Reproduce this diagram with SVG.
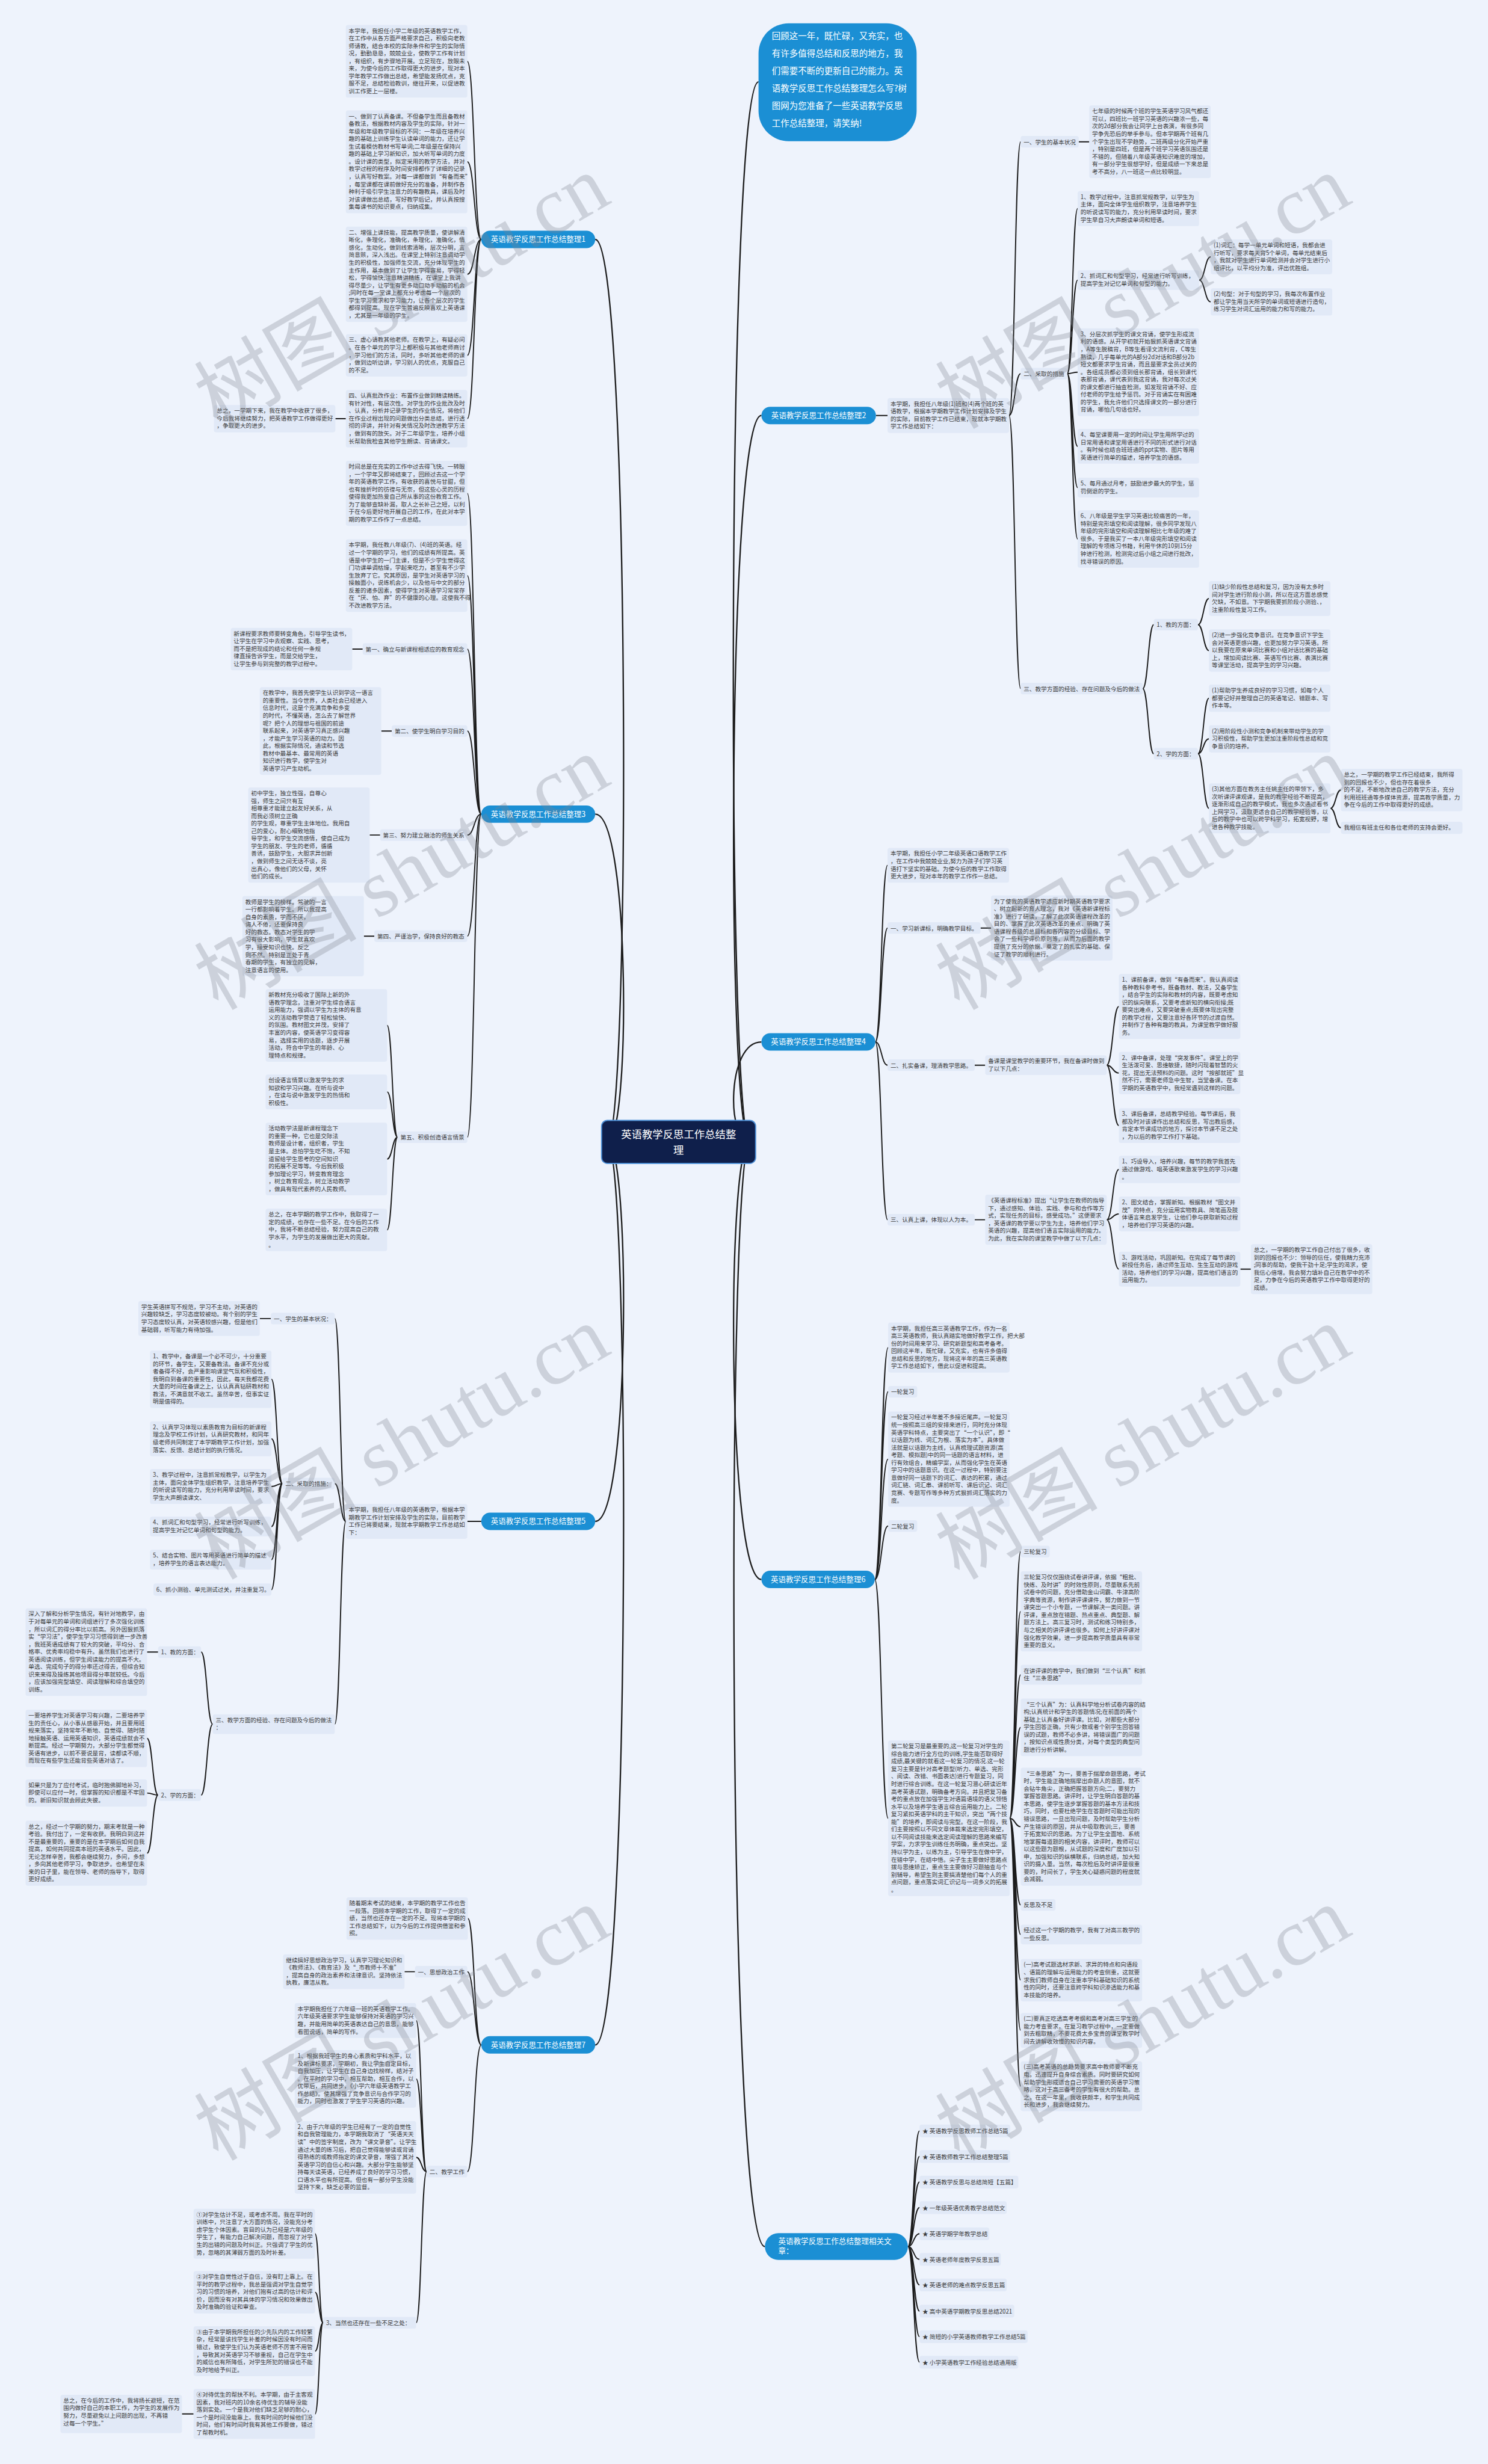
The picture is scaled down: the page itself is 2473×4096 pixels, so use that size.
<svg xmlns="http://www.w3.org/2000/svg" width="2473" height="4096" viewBox="0 0 2473 4096">
<style>
.t{font-family:"Noto Sans CJK SC","Noto Sans",sans-serif;font-size:10px;fill:#3a3a3a}
.b{fill:#e1e9f7}
.c{fill:none;stroke:#1c1c1c;stroke-width:2}
.m{fill:none;stroke:#1c1c1c;stroke-width:2.4}
.p{fill:#1b8fd4}
.pt{font-family:"Noto Sans CJK SC","Noto Sans",sans-serif;font-size:13px;fill:#ffffff}
.w{font-family:"Liberation Serif","Noto Sans CJK SC",serif;font-size:140px;fill:#7d838e;fill-opacity:0.3}
</style>
<rect x="0" y="0" width="2473" height="4096" fill="#eef3fc"/>
<g transform="scale(0.966)">
<g id="connectors">
<path class="m" d="M1290,1965C1250,1965 1250,141 1305,141"/>
<path class="m" d="M1290,1965C1250,1965 1250,715 1310,715"/>
<path class="m" d="M1290,1965C1250,1965 1250,1793 1310,1793"/>
<path class="m" d="M1290,1965C1250,1965 1250,2718 1310,2718"/>
<path class="m" d="M1290,1965C1250,1965 1250,3866 1316,3866"/>
<path class="m" d="M1045,1965C1085,1965 1085,412 1024,412"/>
<path class="m" d="M1045,1965C1085,1965 1085,1401 1024,1401"/>
<path class="m" d="M1045,1965C1085,1965 1085,2618 1024,2618"/>
<path class="m" d="M1045,1965C1085,1965 1085,3519 1024,3519"/>
<path class="c" d="M828,412C816,412 816,105.5 804,105.5M828,412C816,412 816,278.5 804,278.5M828,412C816,412 816,472 804,472M828,412C816,412 816,611.5 804,611.5M828,412C816,412 816,720.5 804,720.5M595,720.5L577,720.5"/>
<path class="c" d="M828,1401C816,1401 816,849 804,849M828,1401C816,1401 816,990.5 804,990.5M828,1401C816,1401 816,1117 804,1117M828,1401C816,1401 816,1258 804,1258M828,1401C816,1401 816,1437 804,1437M828,1401C816,1401 816,1611 804,1611M828,1401C816,1401 816,1957 804,1957M624,1117L606,1117M674,1258L656,1258M654,1437L636,1437M644,1611L626,1611M684,1957C675,1957 675,1764.5 666,1764.5M684,1957C675,1957 675,1879 666,1879M684,1957C675,1957 675,1994.5 666,1994.5M684,1957C675,1957 675,2116.5 666,2116.5"/>
<path class="c" d="M1507,715L1527,715M1736,715C1746,715 1746,244 1756,244M1736,715C1746,715 1746,643 1756,643M1736,715C1746,715 1746,1185 1756,1185M1856,244L1874,244M1836,643C1845,643 1845,359 1854,359M1836,643C1845,643 1845,482 1854,482M1836,643C1845,643 1845,640.5 1854,640.5M1836,643C1845,643 1845,768 1854,768M1836,643C1845,643 1845,839 1854,839M1836,643C1845,643 1845,927.5 1854,927.5M2063,482C2073,482 2073,442 2083,442M2063,482C2073,482 2073,519.5 2083,519.5M1966,1185C1975.5,1185 1975.5,1075 1985,1075M1966,1185C1975.5,1185 1975.5,1297 1985,1297M2061,1075C2070.5,1075 2070.5,1030 2080,1030M2061,1075C2070.5,1075 2070.5,1119.5 2080,1119.5M2061,1297C2070.5,1297 2070.5,1201.5 2080,1201.5M2061,1297C2070.5,1297 2070.5,1271.5 2080,1271.5M2061,1297C2070.5,1297 2070.5,1391 2080,1391M2289,1391C2298,1391 2298,1359.5 2307,1359.5M2289,1391C2298,1391 2298,1424.5 2307,1424.5"/>
<path class="c" d="M1506,1793C1516.5,1793 1516.5,1489 1527,1489M1506,1793C1516.5,1793 1516.5,1597 1527,1597M1506,1793C1516.5,1793 1516.5,1833 1527,1833M1506,1793C1516.5,1793 1516.5,2099 1527,2099M1687,1597L1705,1597M1677,1833L1695,1833M1904,1833C1914.5,1833 1914.5,1732 1925,1732M1904,1833C1914.5,1833 1914.5,1846.5 1925,1846.5M1904,1833C1914.5,1833 1914.5,1937 1925,1937M1677,2099L1695,2099M1904,2099C1914.5,2099 1914.5,2012.5 1925,2012.5M1904,2099C1914.5,2099 1914.5,2089 1925,2089M1904,2099C1914.5,2099 1914.5,2184 1925,2184M2134,2184L2152,2184"/>
<path class="c" d="M1505,2718C1516.5,2718 1516.5,2319 1528,2319M1505,2718C1516.5,2718 1516.5,2395 1528,2395M1505,2718C1516.5,2718 1516.5,2511 1528,2511M1505,2718C1516.5,2718 1516.5,2626 1528,2626M1505,2718C1516.5,2718 1516.5,3129 1528,3129M1737,3129C1746.5,3129 1746.5,2670 1756,2670M1737,3129C1746.5,3129 1746.5,2773 1756,2773M1737,3129C1746.5,3129 1746.5,2882 1756,2882M1737,3129C1746.5,3129 1746.5,2972.5 1756,2972.5M1737,3129C1746.5,3129 1746.5,3143.5 1756,3143.5M1737,3129C1746.5,3129 1746.5,3278 1756,3278M1737,3129C1746.5,3129 1746.5,3329 1756,3329M1737,3129C1746.5,3129 1746.5,3407.5 1756,3407.5M1737,3129C1746.5,3129 1746.5,3494 1756,3494M1737,3129C1746.5,3129 1746.5,3590 1756,3590"/>
<path class="c" d="M1562,3866C1572,3866 1572,3667 1582,3667M1562,3866C1572,3866 1572,3711 1582,3711M1562,3866C1572,3866 1572,3755 1582,3755M1562,3866C1572,3866 1572,3799 1582,3799M1562,3866C1572,3866 1572,3844 1582,3844M1562,3866C1572,3866 1572,3888 1582,3888M1562,3866C1572,3866 1572,3932 1582,3932M1562,3866C1572,3866 1572,3977 1582,3977M1562,3866C1572,3866 1572,4021 1582,4021M1562,3866C1572,3866 1572,4065 1582,4065"/>
<path class="c" d="M828,2618L804,2618M595,2618C585.5,2618 585.5,2269 576,2269M595,2618C585.5,2618 585.5,2553 576,2553M595,2618C585.5,2618 585.5,2967 576,2967M466,2269L447,2269M486,2553C476.5,2553 476.5,2373.5 467,2373.5M486,2553C476.5,2553 476.5,2476 467,2476M486,2553C476.5,2553 476.5,2558 467,2558M486,2553C476.5,2553 476.5,2627 467,2627M486,2553C476.5,2553 476.5,2684 467,2684M486,2553C476.5,2553 476.5,2735.5 467,2735.5M366,2967C356,2967 356,2843 346,2843M366,2967C356,2967 356,3089 346,3089M272,2843L253,2843M272,3089C262.5,3089 262.5,2991.5 253,2991.5M272,3089C262.5,3089 262.5,3085.5 253,3085.5M272,3089C262.5,3089 262.5,3189 253,3189"/>
<path class="c" d="M828,3519C816,3519 816,3301.5 805,3301.5M828,3519C816,3519 816,3393 804,3393M828,3519C816,3519 816,3737 804,3737M714,3393L696,3393M734,3737C725,3737 725,3477 716,3477M734,3737C725,3737 725,3577.5 716,3577.5M734,3737C725,3737 725,3712.5 716,3712.5M734,3737C725,3737 725,3997 716,3997M556,3997C549,3997 549,3844 542,3844M556,3997C549,3997 549,3944.5 542,3944.5M556,3997C549,3997 549,4046 542,4046M556,3997C549,3997 549,4154 542,4154M333,4154L313,4154"/>
</g>

<g id="center"><rect x="1035" y="1928" width="265" height="74" rx="10" fill="#0f1f4b" stroke="#4d8fd6" stroke-width="2"/><text class="pt" style="font-size:18px" x="1167.5" y="1959" text-anchor="middle">英语教学反思工作总结整</text><text class="pt" style="font-size:18px" x="1167.5" y="1985" text-anchor="middle">理</text></g>

<g id="intro-bubble"><rect class="p" x="1305" y="40" width="272" height="203" rx="52"/><text class="pt" style="font-size:15px" x="1328" y="67"><tspan x="1328">回顾这一年，既忙碌，又充实，也</tspan><tspan x="1328" dy="30">有许多值得总结和反思的地方，我</tspan><tspan x="1328" dy="30">们需要不断的更新自己的能力。英</tspan><tspan x="1328" dy="30">语教学反思工作总结整理怎么写?树</tspan><tspan x="1328" dy="30">图网为您准备了一些英语教学反思</tspan><tspan x="1328" dy="30">工作总结整理，请笑纳!</tspan></text></g>

<g id="n1"><rect class="p" x="828" y="397" width="196" height="30" rx="15"/><text class="pt" x="926" y="416.5" text-anchor="middle">英语教学反思工作总结整理1</text></g>
<g id="n2"><rect class="p" x="1310" y="700" width="197" height="30" rx="15"/><text class="pt" x="1408.5" y="719.5" text-anchor="middle">英语教学反思工作总结整理2</text></g>
<g id="n3"><rect class="p" x="828" y="1386" width="196" height="30" rx="15"/><text class="pt" x="926" y="1405.5" text-anchor="middle">英语教学反思工作总结整理3</text></g>
<g id="n4"><rect class="p" x="1310" y="1778" width="196" height="30" rx="15"/><text class="pt" x="1408" y="1797.5" text-anchor="middle">英语教学反思工作总结整理4</text></g>
<g id="n5"><rect class="p" x="828" y="2603" width="196" height="30" rx="15"/><text class="pt" x="926" y="2622.5" text-anchor="middle">英语教学反思工作总结整理5</text></g>
<g id="n6"><rect class="p" x="1310" y="2703" width="195" height="30" rx="15"/><text class="pt" x="1407.5" y="2722.5" text-anchor="middle">英语教学反思工作总结整理6</text></g>
<g id="n7"><rect class="p" x="828" y="3504" width="196" height="30" rx="15"/><text class="pt" x="926" y="3523.5" text-anchor="middle">英语教学反思工作总结整理7</text></g>
<g id="n8"><rect class="p" x="1316" y="3843" width="246" height="46" rx="23"/><text class="pt" x="1339" y="3861"><tspan x="1339">英语教学反思工作总结整理相关文</tspan><tspan x="1339" dy="17">章：</tspan></text></g>

<!-- Branch 1 -->
<g id="b1-1"><rect class="b" x="595" y="43" width="209" height="125" rx="4"/><text class="t" x="600" y="56.5"><tspan x="600">本学年，我担任小学二年级的英语教学工作，</tspan><tspan x="600" dy="13">在工作中从各方面严格要求自己，积极向老教</tspan><tspan x="600" dy="13">师请教，结合本校的实际条件和学生的实际情</tspan><tspan x="600" dy="13">况，勤勤恳恳，兢兢业业，使教学工作有计划</tspan><tspan x="600" dy="13">，有组织，有步骤地开展。立足现在，放眼未</tspan><tspan x="600" dy="13">来，为使今后的工作取得更大的进步，现对本</tspan><tspan x="600" dy="13">学年教学工作做出总结，希望能发扬优点，克</tspan><tspan x="600" dy="13">服不足，总结检验教训，继往开来，以促进教</tspan><tspan x="600" dy="13">训工作更上一层楼。</tspan></text></g>
<g id="b1-2"><rect class="b" x="595" y="190" width="209" height="177" rx="4"/><text class="t" x="600" y="203.5"><tspan x="600">一、做到了认真备课。不但备学生而且备教材</tspan><tspan x="600" dy="13">备教法，根据教材内容及学生的实际，针对一</tspan><tspan x="600" dy="13">年级和年级教学目标的不同：一年级在培养兴</tspan><tspan x="600" dy="13">趣的基础上训练学生认读单词的能力，还让学</tspan><tspan x="600" dy="13">生试着模仿教材书写单词;二年级是在保持兴</tspan><tspan x="600" dy="13">趣的基础上学习新知识，加大听写单词的力度</tspan><tspan x="600" dy="13">。设计课的类型，拟定采用的教学方法，并对</tspan><tspan x="600" dy="13">教学过程的程序及时间安排都作了详细的记录</tspan><tspan x="600" dy="13">，认真写好教案。对每一课都做到“有备而来”</tspan><tspan x="600" dy="13">，每堂课都在课前做好充分的准备，并制作各</tspan><tspan x="600" dy="13">种利于吸引学生注意力的有趣教具，课后及时</tspan><tspan x="600" dy="13">对该课做出总结，写好教学后记，并认真按搜</tspan><tspan x="600" dy="13">集每课书的知识要点，归纳成集。</tspan></text></g>
<g id="b1-3"><rect class="b" x="595" y="390" width="209" height="164" rx="4"/><text class="t" x="600" y="403.5"><tspan x="600">二、增强上课技能，提高教学质量，使讲解清</tspan><tspan x="600" dy="13">晰化，条理化，准确化，条理化，准确化，情</tspan><tspan x="600" dy="13">感化，生动化，做到线索清晰，层次分明，言</tspan><tspan x="600" dy="13">简意赅，深入浅出。在课堂上特别注意调动学</tspan><tspan x="600" dy="13">生的积极性，加强师生交流，充分体现学生的</tspan><tspan x="600" dy="13">主作用，基本做到了让学生学得容易，学得轻</tspan><tspan x="600" dy="13">松，学得愉快;注意精讲精练，在课堂上我讲</tspan><tspan x="600" dy="13">得尽量少，让学生有更多动口动手动脑的机会</tspan><tspan x="600" dy="13">;同时在每一堂课上都充分考虑每一个层次的</tspan><tspan x="600" dy="13">学生学习需求和学习能力，让各个层次的学生</tspan><tspan x="600" dy="13">都得到提高。现在学生普遍反映喜欢上英语课</tspan><tspan x="600" dy="13">，尤其是一年级的学生。</tspan></text></g>
<g id="b1-4"><rect class="b" x="595" y="575" width="209" height="73" rx="4"/><text class="t" x="600" y="588.5"><tspan x="600">三、虚心请教其他老师。在教学上，有疑必问</tspan><tspan x="600" dy="13">。在各个单元的学习上都积极与其他老师商讨</tspan><tspan x="600" dy="13">，学习他们的方法，同时，多听其他老师的课</tspan><tspan x="600" dy="13">，做到边听边讲，学习别人的优点，克服自己</tspan><tspan x="600" dy="13">的不足。</tspan></text></g>
<g id="b1-5"><rect class="b" x="595" y="671" width="209" height="99" rx="4"/><text class="t" x="600" y="684.5"><tspan x="600">四、认真批改作业：布置作业做到精读精练。</tspan><tspan x="600" dy="13">有针对性，有层次性。对学生的作业批改及时</tspan><tspan x="600" dy="13">、认真，分析并记录学生的作业情况，将他们</tspan><tspan x="600" dy="13">在作业过程出现的问题做出分类总结，进行透</tspan><tspan x="600" dy="13">彻的评讲，并针对有关情况及时改进教学方法</tspan><tspan x="600" dy="13">，做到有的放矢。对于二年级学生，培养小组</tspan><tspan x="600" dy="13">长帮助我检查其他学生朗读、背诵课文。</tspan></text></g>
<g id="b1-6"><rect class="b" x="368" y="697" width="209" height="47" rx="4"/><text class="t" x="373" y="710.5"><tspan x="373">总之，一学期下来，我在教学中收获了很多，</tspan><tspan x="373" dy="13">今后我将继续努力，把英语教学工作做得更好</tspan><tspan x="373" dy="13">，争取更大的进步。</tspan></text></g>

<!-- Branch 3 -->
<g id="b3-1"><rect class="b" x="595" y="793" width="209" height="112" rx="4"/><text class="t" x="600" y="806.5"><tspan x="600">时间总是在充实的工作中过去得飞快。一转眼</tspan><tspan x="600" dy="13">，一个学年又即将结束了，回顾过去这一个学</tspan><tspan x="600" dy="13">年的英语教学工作，有收获的喜悦与甘甜，但</tspan><tspan x="600" dy="13">也有挫折时的彷徨与无奈，但这些心灵的历程</tspan><tspan x="600" dy="13">使得我更加热爱自己所从事的这份教育工作。</tspan><tspan x="600" dy="13">为了能够查缺补漏，取人之长补己之短，以利</tspan><tspan x="600" dy="13">于在今后更好地开展自己的工作，在此对本学</tspan><tspan x="600" dy="13">期的教学工作作了一点总结。</tspan></text></g>
<g id="b3-2"><rect class="b" x="595" y="928" width="209" height="125" rx="4"/><text class="t" x="600" y="941.5"><tspan x="600">本学期，我任教八年级(7)、(4)班的英语。经</tspan><tspan x="600" dy="13">过一个学期的学习，他们的成绩有所提高。英</tspan><tspan x="600" dy="13">语是中学生的一门主课，但是不少学生觉得这</tspan><tspan x="600" dy="13">门功课单调枯燥，学起来吃力，甚至有不少学</tspan><tspan x="600" dy="13">生放弃了它。究其原因，是学生对英语学习的</tspan><tspan x="600" dy="13">接触面小，说练机会少，以及他与中文的部分</tspan><tspan x="600" dy="13">反差的诸多因素，使得学生对英语学习常常存</tspan><tspan x="600" dy="13">在“厌、怕、弃”的不健康的心理。这使我不得</tspan><tspan x="600" dy="13">不改进教学方法。</tspan></text></g>
<g id="b3-3"><rect class="b" x="624" y="1107" width="180" height="20" rx="4"/><text class="t" x="629" y="1121">第一、确立与新课程相适应的教育观念</text></g>
<g id="b3-3a"><rect class="b" x="397" y="1080.5" width="209" height="73" rx="4"/><text class="t" x="402" y="1094"><tspan x="402">新课程要求教师要转变角色，引导学生读书，</tspan><tspan x="402" dy="13">让学生在学习中去观察、实践、思考，</tspan><tspan x="402" dy="13">而不是把现成的结论和任何一条规</tspan><tspan x="402" dy="13">律直接告诉学生，而是交给学生，</tspan><tspan x="402" dy="13">让学生参与到完整的教学过程中。</tspan></text></g>
<g id="b3-4"><rect class="b" x="674" y="1248" width="130" height="20" rx="4"/><text class="t" x="679" y="1262">第二、使学生明白学习目的</text></g>
<g id="b3-4a"><rect class="b" x="447" y="1182.5" width="209" height="151" rx="4"/><text class="t" x="452" y="1196"><tspan x="452">在教学中，我首先使学生认识到学这一语言</tspan><tspan x="452" dy="13">的重要性。当今世界，人类社会已经进入</tspan><tspan x="452" dy="13">信息时代，这是个充满竞争和多变</tspan><tspan x="452" dy="13">的时代，不懂英语，怎么去了解世界</tspan><tspan x="452" dy="13">呢？把个人的理想与祖国的前途</tspan><tspan x="452" dy="13">联系起来，对英语学习真正感兴趣</tspan><tspan x="452" dy="13">，才能产生学习英语的动力。因</tspan><tspan x="452" dy="13">此，根据实际情况，通读和节选</tspan><tspan x="452" dy="13">教材中最基本、最常用的英语</tspan><tspan x="452" dy="13">知识进行教学，使学生对</tspan><tspan x="452" dy="13">英语学习产生动机。</tspan></text></g>
<g id="b3-5"><rect class="b" x="654" y="1427" width="150" height="20" rx="4"/><text class="t" x="659" y="1441">第三、努力建立融洽的师生关系</text></g>
<g id="b3-5a"><rect class="b" x="427" y="1355" width="209" height="164" rx="4"/><text class="t" x="432" y="1368.5"><tspan x="432">初中学生，独立性强，自尊心</tspan><tspan x="432" dy="13">强，师生之间只有互</tspan><tspan x="432" dy="13">相尊重才能建立起友好关系，从</tspan><tspan x="432" dy="13">而我必须树立正确</tspan><tspan x="432" dy="13">的学生观，尊重学生主体地位。我用自</tspan><tspan x="432" dy="13">己的爱心，耐心细致地指</tspan><tspan x="432" dy="13">导学生，和学生交流感情，使自己成为</tspan><tspan x="432" dy="13">学生的朋友、学生的老师，循循</tspan><tspan x="432" dy="13">善诱，鼓励学生，大胆求异创新</tspan><tspan x="432" dy="13">，做到师生之间无话不谈，亮</tspan><tspan x="432" dy="13">出真心，像他们的父母，关怀</tspan><tspan x="432" dy="13">他们的成长。</tspan></text></g>
<g id="b3-6"><rect class="b" x="644" y="1601" width="160" height="20" rx="4"/><text class="t" x="649" y="1615">第四、严谨治学，保持良好的教态</text></g>
<g id="b3-6a"><rect class="b" x="417" y="1542" width="209" height="138" rx="4"/><text class="t" x="422" y="1555.5"><tspan x="422">教师是学生的榜样。驾驶的一言</tspan><tspan x="422" dy="13">一行都影响着学生。所以我提高</tspan><tspan x="422" dy="13">自身的素质，学而不厌，</tspan><tspan x="422" dy="13">诲人不倦，还要保持良</tspan><tspan x="422" dy="13">好的教态。教态对学生的学</tspan><tspan x="422" dy="13">习有很大影响，学生就喜欢</tspan><tspan x="422" dy="13">学，接受知识也快。反之</tspan><tspan x="422" dy="13">则不然。特别是正处于青</tspan><tspan x="422" dy="13">春期的学生，有独立的见解，</tspan><tspan x="422" dy="13">注意语言的使用。</tspan></text></g>
<g id="b3-7"><rect class="b" x="684" y="1947" width="120" height="20" rx="4"/><text class="t" x="689" y="1961">第五、积极创造语言情景</text></g>
<g id="b3-7a"><rect class="b" x="457" y="1702" width="209" height="125" rx="4"/><text class="t" x="462" y="1715.5"><tspan x="462">新教材充分吸收了国际上新的外</tspan><tspan x="462" dy="13">语教学理念，注重对学生综合语言</tspan><tspan x="462" dy="13">运用能力，强调以学生为主体的有意</tspan><tspan x="462" dy="13">义的活动教学营造了轻松愉快、</tspan><tspan x="462" dy="13">的氛围。教材图文并茂，安排了</tspan><tspan x="462" dy="13">丰富的内容，使英语学习变得容</tspan><tspan x="462" dy="13">易，选择实用的话题，逐步开展</tspan><tspan x="462" dy="13">活动，符合中学生的年龄、心</tspan><tspan x="462" dy="13">理特点和规律。</tspan></text></g>
<g id="b3-7b"><rect class="b" x="457" y="1849" width="209" height="60" rx="4"/><text class="t" x="462" y="1862.5"><tspan x="462">创设语言情景以激发学生的求</tspan><tspan x="462" dy="13">知欲和学习兴趣。在听与说中</tspan><tspan x="462" dy="13">，在读与说中激发学生的热情和</tspan><tspan x="462" dy="13">积极性。</tspan></text></g>
<g id="b3-7c"><rect class="b" x="457" y="1932" width="209" height="125" rx="4"/><text class="t" x="462" y="1945.5"><tspan x="462">活动教学法是新课程理念下</tspan><tspan x="462" dy="13">的重要一种，它也是交际法</tspan><tspan x="462" dy="13">教师是设计者，组织者，学生</tspan><tspan x="462" dy="13">是主体。总怕学生吃不饱，不知</tspan><tspan x="462" dy="13">道留给学生思考的空间知识</tspan><tspan x="462" dy="13">的拓展不足等等。今后我积极</tspan><tspan x="462" dy="13">参加理论学习，转变教育理念</tspan><tspan x="462" dy="13">，树立教育观念，树立活动教学</tspan><tspan x="462" dy="13">，做具有现代素养的人民教师。</tspan></text></g>
<g id="b3-7d"><rect class="b" x="457" y="2080" width="209" height="73" rx="4"/><text class="t" x="462" y="2093.5"><tspan x="462">总之，在本学期的教学工作中，我取得了一</tspan><tspan x="462" dy="13">定的成绩，也存在一些不足。在今后的工作</tspan><tspan x="462" dy="13">中，我将不断总结经验，努力提高自己的教</tspan><tspan x="462" dy="13">学水平，为学生的发展做出更大的贡献。</tspan><tspan x="462" dy="13">。</tspan></text></g>

<!-- Branch 2 -->
<g id="b2-0"><rect class="b" x="1527" y="685" width="209" height="60" rx="4"/><text class="t" x="1532" y="698.5"><tspan x="1532">本学期，我担任八年级(1)班和(4)两个班的英</tspan><tspan x="1532" dy="13">语教学，根据本学期教学工作计划安排及学生</tspan><tspan x="1532" dy="13">的实际，目前教学工作已结束，现就本学期教</tspan><tspan x="1532" dy="13">学工作总结如下：</tspan></text></g>
<g id="b2-1"><rect class="b" x="1756" y="234" width="100" height="20" rx="4"/><text class="t" x="1761" y="248">一、学生的基本状况</text></g>
<g id="b2-1a"><rect class="b" x="1874" y="181.5" width="209" height="125" rx="4"/><text class="t" x="1879" y="195"><tspan x="1879">七年级的时候两个班的学生英语学习风气都还</tspan><tspan x="1879" dy="13">可以，四班比一班学习英语的兴趣浓一些，每</tspan><tspan x="1879" dy="13">次的2d部分我会让同学上台表演，有很多同</tspan><tspan x="1879" dy="13">学争先恐后的举手参与。但本学期两个班有几</tspan><tspan x="1879" dy="13">个学生出现不学趋势，二班两级分化开始严重</tspan><tspan x="1879" dy="13">，特别是四班，但是两个班学习英语氛围还是</tspan><tspan x="1879" dy="13">不错的，但随着八年级英语知识难度的增加，</tspan><tspan x="1879" dy="13">有一部分学生很想学好，但是成绩一下来总是</tspan><tspan x="1879" dy="13">考不高分，八一班这一点比较明显。</tspan></text></g>
<g id="b2-2"><rect class="b" x="1756" y="633" width="80" height="20" rx="4"/><text class="t" x="1761" y="647">二、采取的措施</text></g>
<g id="b2-2a"><rect class="b" x="1854" y="329" width="209" height="60" rx="4"/><text class="t" x="1859" y="342.5"><tspan x="1859">1、教学过程中，注意抓常规教学，以学生为</tspan><tspan x="1859" dy="13">主体，面向全体学生组织教学，注意培养学生</tspan><tspan x="1859" dy="13">的听说读写的能力，充分利用早读时间，要求</tspan><tspan x="1859" dy="13">学生早自习大声朗读单词和短语。</tspan></text></g>
<g id="b2-2b"><rect class="b" x="1854" y="465" width="209" height="34" rx="4"/><text class="t" x="1859" y="478.5"><tspan x="1859">2、抓词汇和句型学习，经常进行听写训练，</tspan><tspan x="1859" dy="13">提高学生对记忆单词和句型的能力。</tspan></text></g>
<g id="b2-2b1"><rect class="b" x="2083" y="412" width="209" height="60" rx="4"/><text class="t" x="2088" y="425.5"><tspan x="2088">(1)词汇：每学一单元单词和短语，我都会进</tspan><tspan x="2088" dy="13">行听写，要求每天背5个单词，每单元结束后</tspan><tspan x="2088" dy="13">，我就对学生进行单词检测并会对学生进行小</tspan><tspan x="2088" dy="13">组评比，以平均分为准，评出优胜组。</tspan></text></g>
<g id="b2-2b2"><rect class="b" x="2083" y="496" width="209" height="47" rx="4"/><text class="t" x="2088" y="509.5"><tspan x="2088">(2)句型：对于句型的学习，我每次布置作业</tspan><tspan x="2088" dy="13">都让学生用当天所学的单词或短语进行造句，</tspan><tspan x="2088" dy="13">练习学生对词汇运用的能力和写的能力。</tspan></text></g>
<g id="b2-2c"><rect class="b" x="1854" y="565" width="209" height="151" rx="4"/><text class="t" x="1859" y="578.5"><tspan x="1859">3、分层次抓学生的课文背诵，使学生形成流</tspan><tspan x="1859" dy="13">利的语感。从开学初就开始狠抓英语课文背诵</tspan><tspan x="1859" dy="13">，A等生脱稿背，B等生看译文流利背，C等生</tspan><tspan x="1859" dy="13">熟读，几乎每单元的A部分2d对话和B部分2b</tspan><tspan x="1859" dy="13">短文都要求学生背诵，而且是要求全员过关的</tspan><tspan x="1859" dy="13">。各组成员都必须到组长那背诵，组长到课代</tspan><tspan x="1859" dy="13">表那背诵，课代表到我这背诵，我对每次过关</tspan><tspan x="1859" dy="13">的课文都进行抽查检测，如发现背诵不好、应</tspan><tspan x="1859" dy="13">付老师的学生给予惩罚。对于背诵实在有困难</tspan><tspan x="1859" dy="13">的学生，我允许他们只选择课文的一部分进行</tspan><tspan x="1859" dy="13">背诵，哪怕几句话也好。</tspan></text></g>
<g id="b2-2d"><rect class="b" x="1854" y="738" width="209" height="60" rx="4"/><text class="t" x="1859" y="751.5"><tspan x="1859">4、每堂课要用一定的时间让学生用所学过的</tspan><tspan x="1859" dy="13">日常用语和课堂用语进行不同的形式进行对话</tspan><tspan x="1859" dy="13">。有时候也结合班班通的ppt实物、图片等用</tspan><tspan x="1859" dy="13">英语进行简单的描述，培养学生的语感。</tspan></text></g>
<g id="b2-2e"><rect class="b" x="1854" y="822" width="209" height="34" rx="4"/><text class="t" x="1859" y="835.5"><tspan x="1859">5、每月通过月考，鼓励进步最大的学生，惩</tspan><tspan x="1859" dy="13">罚倒退的学生。</tspan></text></g>
<g id="b2-2f"><rect class="b" x="1854" y="878" width="209" height="99" rx="4"/><text class="t" x="1859" y="891.5"><tspan x="1859">6、八年级是学生学习英语比较痛苦的一年，</tspan><tspan x="1859" dy="13">特别是完形填空和阅读理解，很多同学发现八</tspan><tspan x="1859" dy="13">年级的完形填空和阅读理解相比七年级的难了</tspan><tspan x="1859" dy="13">很多。于是我买了一本八年级完形填空和阅读</tspan><tspan x="1859" dy="13">理解的专项练习书籍，利用午休的10到15分</tspan><tspan x="1859" dy="13">钟进行检测，检测完过后小组之间进行批改，</tspan><tspan x="1859" dy="13">找寻错误的原因。</tspan></text></g>
<g id="b2-3"><rect class="b" x="1756" y="1175" width="210" height="20" rx="4"/><text class="t" x="1761" y="1189">三、教学方面的经验、存在问题及今后的做法</text></g>
<g id="b2-3a"><rect class="b" x="1985" y="1065" width="76" height="20" rx="4"/><text class="t" x="1990" y="1079">1、教的方面：</text></g>
<g id="b2-3a1"><rect class="b" x="2080" y="1000" width="209" height="60" rx="4"/><text class="t" x="2085" y="1013.5"><tspan x="2085">(1)缺少阶段性总结和复习，因为没有太多时</tspan><tspan x="2085" dy="13">间对学生进行阶段小测，所以在这方面总感觉</tspan><tspan x="2085" dy="13">欠缺，不如意。下学期我要抓阶段小测验、，</tspan><tspan x="2085" dy="13">注重阶段性复习工作。</tspan></text></g>
<g id="b2-3a2"><rect class="b" x="2080" y="1083" width="209" height="73" rx="4"/><text class="t" x="2085" y="1096.5"><tspan x="2085">(2)进一步强化竞争意识。在竞争意识下学生</tspan><tspan x="2085" dy="13">会对英语更感兴趣，也更加努力学习英语。所</tspan><tspan x="2085" dy="13">以我要在原来单词比赛和小组对话比赛的基础</tspan><tspan x="2085" dy="13">上，增加阅读比赛、英语写作比赛、表演比赛</tspan><tspan x="2085" dy="13">等课堂活动，提高学生的学习兴趣。</tspan></text></g>
<g id="b2-3b"><rect class="b" x="1985" y="1287" width="76" height="20" rx="4"/><text class="t" x="1990" y="1301">2、学的方面：</text></g>
<g id="b2-3b1"><rect class="b" x="2080" y="1178" width="209" height="47" rx="4"/><text class="t" x="2085" y="1191.5"><tspan x="2085">(1)帮助学生养成良好的学习习惯，如每个人</tspan><tspan x="2085" dy="13">都要记好并整理自己的英语笔记、错题本、写</tspan><tspan x="2085" dy="13">作本等。</tspan></text></g>
<g id="b2-3b2"><rect class="b" x="2080" y="1248" width="209" height="47" rx="4"/><text class="t" x="2085" y="1261.5"><tspan x="2085">(2)用阶段性小测和竞争机制来带动学生的学</tspan><tspan x="2085" dy="13">习积极性，帮助学生更加注重阶段性总结和竞</tspan><tspan x="2085" dy="13">争意识的培养。</tspan></text></g>
<g id="b2-3b3"><rect class="b" x="2080" y="1348" width="209" height="86" rx="4"/><text class="t" x="2085" y="1361.5"><tspan x="2085">(3)其他方面在教务主任姚主任的带领下，多</tspan><tspan x="2085" dy="13">次听课评课观课，是我的教学经验不断提高，</tspan><tspan x="2085" dy="13">逐渐形成自己的教学模式，我也多次通过看书</tspan><tspan x="2085" dy="13">上网学习，汲取更适合自己的教学经验等，以</tspan><tspan x="2085" dy="13">后的教学中也可以跨学科学习，拓宽视野，增</tspan><tspan x="2085" dy="13">进各种教学技能。</tspan></text></g>
<g id="b2-3b3a"><rect class="b" x="2307" y="1323" width="209" height="73" rx="4"/><text class="t" x="2312" y="1336.5"><tspan x="2312">总之，一学期的教学工作已经结束，我所得</tspan><tspan x="2312" dy="13">到的回报也不少，但也存在着很多</tspan><tspan x="2312" dy="13">的不足，不断地改进自己的教学方法，充分</tspan><tspan x="2312" dy="13">利用班班通等多媒体资源，提高教学质量，力</tspan><tspan x="2312" dy="13">争在今后的工作中取得更好的成绩。</tspan></text></g>
<g id="b2-3b3b"><rect class="b" x="2307" y="1414" width="209" height="21" rx="4"/><text class="t" x="2312" y="1428">我相信有班主任和各位老师的支持会更好。</text></g>

<!-- Branch 4 -->
<g id="b4-0"><rect class="b" x="1527" y="1459" width="209" height="60" rx="4"/><text class="t" x="1532" y="1472.5"><tspan x="1532">本学期，我担任小学二年级英语口语教学工作</tspan><tspan x="1532" dy="13">，在工作中我兢兢业业,努力为孩子们学习英</tspan><tspan x="1532" dy="13">语打下坚实的基础。为使今后的教学工作取得</tspan><tspan x="1532" dy="13">更大进步，现对本年的教学工作作一总结。</tspan></text></g>
<g id="b4-1"><rect class="b" x="1527" y="1587" width="160" height="20" rx="4"/><text class="t" x="1532" y="1601">一、学习新课标，明确教学目标。</text></g>
<g id="b4-1a"><rect class="b" x="1705" y="1541" width="209" height="112" rx="4"/><text class="t" x="1710" y="1554.5"><tspan x="1710">为了使我的英语教学适应新时期英语教学要求</tspan><tspan x="1710" dy="13">、树立起新的育人理念，我对《英语新课程标</tspan><tspan x="1710" dy="13">准》进行了研读，了解了此次英语课程改革的</tspan><tspan x="1710" dy="13">目的、掌握了此次英语改革的重点、明确了英</tspan><tspan x="1710" dy="13">语课程各级的总目标和各内容的分级目标、学</tspan><tspan x="1710" dy="13">会了一些科学评价原则等，从而为后面的教学</tspan><tspan x="1710" dy="13">提供了充分的依据、奠定了的扎实的基础、保</tspan><tspan x="1710" dy="13">证了教学的顺利进行。</tspan></text></g>
<g id="b4-2"><rect class="b" x="1527" y="1823" width="150" height="20" rx="4"/><text class="t" x="1532" y="1837">二、扎实备课，理清教学思路。</text></g>
<g id="b4-2a"><rect class="b" x="1695" y="1816" width="209" height="34" rx="4"/><text class="t" x="1700" y="1829.5"><tspan x="1700">备课是课堂教学的重要环节，我在备课时做到</tspan><tspan x="1700" dy="13">了以下几点：</tspan></text></g>
<g id="b4-2a1"><rect class="b" x="1925" y="1676" width="209" height="112" rx="4"/><text class="t" x="1930" y="1689.5"><tspan x="1930">1、课前备课，做到“有备而来”。我认真阅读</tspan><tspan x="1930" dy="13">各种教科参考书，既备教材、教法，又备学生</tspan><tspan x="1930" dy="13">，结合学生的实际和教材的内容，既要考虑知</tspan><tspan x="1930" dy="13">识的纵向联系，又要考虑新知的横向衔接;既</tspan><tspan x="1930" dy="13">要突出难点，又要突破重点;既要体现出完整</tspan><tspan x="1930" dy="13">的教学过程，又要注意好各环节的过渡自然。</tspan><tspan x="1930" dy="13">并制作了各种有趣的教具，为课堂教学做好服</tspan><tspan x="1930" dy="13">务。</tspan></text></g>
<g id="b4-2a2"><rect class="b" x="1925" y="1810" width="209" height="73" rx="4"/><text class="t" x="1930" y="1823.5"><tspan x="1930">2、课中备课，处理“突发事件”。课堂上的学</tspan><tspan x="1930" dy="13">生活泼可爱、思维敏捷，随时闪现着智慧的火</tspan><tspan x="1930" dy="13">花，提出无法预料的问题。这时“按部就班”显</tspan><tspan x="1930" dy="13">然不行，需要老师急中生智，当堂备课。在本</tspan><tspan x="1930" dy="13">学期的英语教学中，我经常遇到这样的问题。</tspan></text></g>
<g id="b4-2a3"><rect class="b" x="1925" y="1907" width="209" height="60" rx="4"/><text class="t" x="1930" y="1920.5"><tspan x="1930">3、课后备课，总结教学经验。每节课后，我</tspan><tspan x="1930" dy="13">都及时对该课作出总结和反思，写出教后感，</tspan><tspan x="1930" dy="13">肯定本节课成功的地方，探讨本节课不足之处</tspan><tspan x="1930" dy="13">，为以后的教学工作打下基础。</tspan></text></g>
<g id="b4-3"><rect class="b" x="1527" y="2089" width="150" height="20" rx="4"/><text class="t" x="1532" y="2103">三、认真上课，体现以人为本。</text></g>
<g id="b4-3a"><rect class="b" x="1695" y="2056" width="209" height="86" rx="4"/><text class="t" x="1700" y="2069.5"><tspan x="1700">《英语课程标准》提出“让学生在教师的指导</tspan><tspan x="1700" dy="13">下，通过感知、体验、实践、参与和合作等方</tspan><tspan x="1700" dy="13">式，实现任务的目标，感受成功。”这便要求</tspan><tspan x="1700" dy="13">，英语课的教学要以学生为主，培养他们学习</tspan><tspan x="1700" dy="13">英语的兴趣，提高他们语言实际运用的能力。</tspan><tspan x="1700" dy="13">为此，我在实际的课堂教学中做了以下几点：</tspan></text></g>
<g id="b4-3a1"><rect class="b" x="1925" y="1989" width="209" height="47" rx="4"/><text class="t" x="1930" y="2002.5"><tspan x="1930">1、巧设导入，培养兴趣，每节的教学我首先</tspan><tspan x="1930" dy="13">通过做游戏、唱英语歌来激发学生的学习兴趣</tspan><tspan x="1930" dy="13">。</tspan></text></g>
<g id="b4-3a2"><rect class="b" x="1925" y="2059" width="209" height="60" rx="4"/><text class="t" x="1930" y="2072.5"><tspan x="1930">2、图文结合，掌握新知。根据教材“图文并</tspan><tspan x="1930" dy="13">茂”的特点，充分运用实物教具、简笔画及肢</tspan><tspan x="1930" dy="13">体语言来启发学生，让他们参与获取新知过程</tspan><tspan x="1930" dy="13">，培养他们学习英语的兴趣。</tspan></text></g>
<g id="b4-3a3"><rect class="b" x="1925" y="2154" width="209" height="60" rx="4"/><text class="t" x="1930" y="2167.5"><tspan x="1930">3、游戏活动，巩固新知。在完成了每节课的</tspan><tspan x="1930" dy="13">新授任务后，通过师生互动、生生互动的游戏</tspan><tspan x="1930" dy="13">活动，培养他们的学习兴趣，提高他们语言的</tspan><tspan x="1930" dy="13">运用能力。</tspan></text></g>
<g id="b4-3a3a"><rect class="b" x="2152" y="2141" width="209" height="86" rx="4"/><text class="t" x="2157" y="2154.5"><tspan x="2157">总之，一学期的教学工作自己付出了很多，收</tspan><tspan x="2157" dy="13">到的回报也不少：领导的信任，使我精力充沛</tspan><tspan x="2157" dy="13">;同事的帮助，使我干劲十足;学生的渴求，使</tspan><tspan x="2157" dy="13">我信心倍增。我会努力填补自己在教学中的不</tspan><tspan x="2157" dy="13">足，力争在今后的英语教学工作中取得更好的</tspan><tspan x="2157" dy="13">成绩。</tspan></text></g>

<!-- Branch 6 -->
<g id="b6-0"><rect class="b" x="1528" y="2276" width="209" height="86" rx="4"/><text class="t" x="1533" y="2289.5"><tspan x="1533">本学期，我担任高三英语教学工作，作为一名</tspan><tspan x="1533" dy="13">高三英语教师，我认真踏实地做好教学工作，把大部</tspan><tspan x="1533" dy="13">份的时间用来学习、研究新题型和高考备考。</tspan><tspan x="1533" dy="13">回顾这半年，既忙碌，又充实，也有许多值得</tspan><tspan x="1533" dy="13">总结和反思的地方，现将这半年的高三英语教</tspan><tspan x="1533" dy="13">学工作总结如下，借此以促进和提高。</tspan></text></g>
<g id="b6-1"><rect class="b" x="1528" y="2385" width="50" height="20" rx="4"/><text class="t" x="1533" y="2399">一轮复习</text></g>
<g id="b6-2"><rect class="b" x="1528" y="2429" width="209" height="164" rx="4"/><text class="t" x="1533" y="2442.5"><tspan x="1533">一轮复习经过半年差不多接近尾声。一轮复习</tspan><tspan x="1533" dy="13">统一按照高三组的安排来进行，同时充分体现</tspan><tspan x="1533" dy="13">英语学科特点，主要突出了“一个认识”，即“</tspan><tspan x="1533" dy="13">以话题为线、词汇为根、落实为本”。具体做</tspan><tspan x="1533" dy="13">法就是以话题为主线，认真梳理试题资源(高</tspan><tspan x="1533" dy="13">考题、模拟题)中的同一话题的语言材料，进</tspan><tspan x="1533" dy="13">行有效组合，精编学案，从而强化学生在英语</tspan><tspan x="1533" dy="13">学习中的话题意识。在这一过程中，特别要注</tspan><tspan x="1533" dy="13">意做好同一话题下的词汇、表达的积累，通过</tspan><tspan x="1533" dy="13">词汇链、词汇串、课前听写、课后识记、词汇</tspan><tspan x="1533" dy="13">竞赛、专题写作等多种方式狠抓词汇落实的力</tspan><tspan x="1533" dy="13">度。</tspan></text></g>
<g id="b6-3"><rect class="b" x="1528" y="2616" width="50" height="20" rx="4"/><text class="t" x="1533" y="2630">二轮复习</text></g>
<g id="b6-4"><rect class="b" x="1528" y="2995" width="209" height="268" rx="4"/><text class="t" x="1533" y="3008.5"><tspan x="1533">第二轮复习是最重要的,这一轮复习对学生的</tspan><tspan x="1533" dy="13">综合能力进行全方位的训练,学生能否取得好</tspan><tspan x="1533" dy="13">成绩,最关键的就看这一轮复习的情况.这一轮</tspan><tspan x="1533" dy="13">复习主要是针对高考题型(听力、单选、完形</tspan><tspan x="1533" dy="13">、阅读、改错、书面表达)进行专题复习，同</tspan><tspan x="1533" dy="13">时进行综合训练。在这一轮复习潜心研读近年</tspan><tspan x="1533" dy="13">高考英语试题，明确备考方向。并且把复习备</tspan><tspan x="1533" dy="13">考的重点放在加强学生对语篇语境的语义领悟</tspan><tspan x="1533" dy="13">水平以及培养学生语言综合运用能力上。二轮</tspan><tspan x="1533" dy="13">复习紧扣英语学科的主干知识，突出“两个技</tspan><tspan x="1533" dy="13">能”的培养，即阅读与完型。在这一阶段，我</tspan><tspan x="1533" dy="13">们主要按照以不同文章体裁来选定完形填空，</tspan><tspan x="1533" dy="13">以不同阅读技能来选定阅读理解的思路来编写</tspan><tspan x="1533" dy="13">学案，力求学生训练任务明确，重点突出。坚</tspan><tspan x="1533" dy="13">持以学为主，以练为主，引导学生在做中学，</tspan><tspan x="1533" dy="13">在错中学，在结中悟。尖子生主要做好思路点</tspan><tspan x="1533" dy="13">拨与思维矫正，重点生主要做好习题抽查与个</tspan><tspan x="1533" dy="13">别辅导，希望生则主要搞清楚他们每个人的重</tspan><tspan x="1533" dy="13">点问题，重点落实词汇识记与一词多义的拓展</tspan><tspan x="1533" dy="13">。</tspan></text></g>
<g id="b6-5"><rect class="b" x="1756" y="2660" width="50" height="20" rx="4"/><text class="t" x="1761" y="2674">三轮复习</text></g>
<g id="b6-6"><rect class="b" x="1756" y="2704" width="209" height="138" rx="4"/><text class="t" x="1761" y="2717.5"><tspan x="1761">三轮复习仅仅围绕试卷讲评课，依据“粗批、</tspan><tspan x="1761" dy="13">快练、及时讲”的时效性原则，尽量联系先前</tspan><tspan x="1761" dy="13">试卷中的问题，充分借助金山词霸、牛津高阶</tspan><tspan x="1761" dy="13">字典等资源，制作讲评课课件，努力做到一节</tspan><tspan x="1761" dy="13">课突出一个小专题，一节课解决一类问题。讲</tspan><tspan x="1761" dy="13">评课，重点放在错题、热点重点、典型题、解</tspan><tspan x="1761" dy="13">题方法上。高三复习时，测试和练习特别多，</tspan><tspan x="1761" dy="13">与之相关的讲评课也很多。如何上好讲评课对</tspan><tspan x="1761" dy="13">强化教学效果，进一步提高教学质量具有非常</tspan><tspan x="1761" dy="13">重要的意义。</tspan></text></g>
<g id="b6-7"><rect class="b" x="1756" y="2865" width="209" height="34" rx="4"/><text class="t" x="1761" y="2878.5"><tspan x="1761">在讲评课的教学中，我们做到“三个认真”和抓</tspan><tspan x="1761" dy="13">住“三条思路”</tspan></text></g>
<g id="b6-8"><rect class="b" x="1756" y="2923" width="209" height="99" rx="4"/><text class="t" x="1761" y="2936.5"><tspan x="1761">“三个认真”为：认真科学地分析试卷内容的结</tspan><tspan x="1761" dy="13">构;认真统计和学生的答题情况;在前面的两个</tspan><tspan x="1761" dy="13">基础上认真备好讲评课。比如，对那些大部分</tspan><tspan x="1761" dy="13">学生回答正确，只有少数或者个别学生回答错</tspan><tspan x="1761" dy="13">误的试题，教师不必多讲，将错误面广的问题</tspan><tspan x="1761" dy="13">，按知识点或性质分类，对每个类型的典型问</tspan><tspan x="1761" dy="13">题进行分析讲解。</tspan></text></g>
<g id="b6-9"><rect class="b" x="1756" y="3042" width="209" height="203" rx="4"/><text class="t" x="1761" y="3055.5"><tspan x="1761">“三条思路”为一，要善于揣摩命题思路，考试</tspan><tspan x="1761" dy="13">时，学生能正确地揣摩出命题人的意图，就不</tspan><tspan x="1761" dy="13">会钻牛角尖，正确把握答题方向;二，要努力</tspan><tspan x="1761" dy="13">掌握答题思路。讲评时，让学生明白答题的基</tspan><tspan x="1761" dy="13">本思路，使学生逐步掌握答题的基本方法和技</tspan><tspan x="1761" dy="13">巧，同时，也要杜绝学生在答题时可能出现的</tspan><tspan x="1761" dy="13">错误思路，一旦出现问题，及时帮助学生分析</tspan><tspan x="1761" dy="13">产生错误的原因，并从中吸取教训;三，要善</tspan><tspan x="1761" dy="13">于拓宽知识的思路。为了让学生全面地、系统</tspan><tspan x="1761" dy="13">地掌握每道题的相关内容，讲评时，教师可以</tspan><tspan x="1761" dy="13">以这些题为题根，从试题的深度和广度加以引</tspan><tspan x="1761" dy="13">申，加强知识的纵横联系，归纳总结，加大知</tspan><tspan x="1761" dy="13">识的摄入量。当然，每次检后及时讲评是很重</tspan><tspan x="1761" dy="13">要的，时间长了，学生关心疑惑问题的程度就</tspan><tspan x="1761" dy="13">会减弱。</tspan></text></g>
<g id="b6-10"><rect class="b" x="1756" y="3268" width="60" height="20" rx="4"/><text class="t" x="1761" y="3282">反思及不足</text></g>
<g id="b6-11"><rect class="b" x="1756" y="3312" width="209" height="34" rx="4"/><text class="t" x="1761" y="3325.5"><tspan x="1761">经过这一个学期的教学，我有了对高三教学的</tspan><tspan x="1761" dy="13">一些反思。</tspan></text></g>
<g id="b6-12"><rect class="b" x="1756" y="3371" width="209" height="73" rx="4"/><text class="t" x="1761" y="3384.5"><tspan x="1761">(一)高考试题选材求新、求异的特点和向语段</tspan><tspan x="1761" dy="13">、语篇的理解与运用能力的考查侧重，这就要</tspan><tspan x="1761" dy="13">求我们教师自身在注重本学科基础知识的系统</tspan><tspan x="1761" dy="13">性的同时，还要注意跨学科知识渗透能力和基</tspan><tspan x="1761" dy="13">本技能的培养。</tspan></text></g>
<g id="b6-13"><rect class="b" x="1756" y="3464" width="209" height="60" rx="4"/><text class="t" x="1761" y="3477.5"><tspan x="1761">(二)要真正吃透高考考纲和高考对高三学生的</tspan><tspan x="1761" dy="13">能力考查要求，在复习教学过程中，一定要做</tspan><tspan x="1761" dy="13">到去粗取精，不要花费太多宝贵的课堂教学时</tspan><tspan x="1761" dy="13">间去讲解收效慢的知识内容。</tspan></text></g>
<g id="b6-14"><rect class="b" x="1756" y="3547" width="209" height="86" rx="4"/><text class="t" x="1761" y="3560.5"><tspan x="1761">(三)高考英语的总趋势要求高中教师要不断充</tspan><tspan x="1761" dy="13">电，迅速提升自身综合素质。同时要研究如何</tspan><tspan x="1761" dy="13">帮助学生形成适合自己学习需要的英语学习策</tspan><tspan x="1761" dy="13">略，这对于高三备考的学生有很大的帮助。总</tspan><tspan x="1761" dy="13">之，在这一年里，我收获颇丰，和学生共同成</tspan><tspan x="1761" dy="13">长和进步，我会继续努力。</tspan></text></g>

<!-- Related -->
<g id="r1"><rect class="b" x="1582" y="3656" width="156" height="22" rx="4"/><text class="t" x="1587" y="3671">★ 英语教学反思教师工作总结5篇</text></g>
<g id="r2"><rect class="b" x="1582" y="3700" width="156" height="22" rx="4"/><text class="t" x="1587" y="3715">★ 英语教师教学工作总结整理5篇</text></g>
<g id="r3"><rect class="b" x="1582" y="3744" width="170" height="22" rx="4"/><text class="t" x="1587" y="3759">★ 英语教学反思与总结简短【五篇】</text></g>
<g id="r4"><rect class="b" x="1582" y="3788" width="150" height="22" rx="4"/><text class="t" x="1587" y="3803">★ 一年级英语优秀教学总结范文</text></g>
<g id="r5"><rect class="b" x="1582" y="3833" width="120" height="22" rx="4"/><text class="t" x="1587" y="3848">★ 英语学期学年教学总结</text></g>
<g id="r6"><rect class="b" x="1582" y="3877" width="140" height="22" rx="4"/><text class="t" x="1587" y="3892">★ 英语老师年度教学反思五篇</text></g>
<g id="r7"><rect class="b" x="1582" y="3921" width="150" height="22" rx="4"/><text class="t" x="1587" y="3936">★ 英语老师的难点教学反思五篇</text></g>
<g id="r8"><rect class="b" x="1582" y="3966" width="163" height="22" rx="4"/><text class="t" x="1587" y="3981">★ 高中英语学期教学反思总结2021</text></g>
<g id="r9"><rect class="b" x="1582" y="4010" width="186" height="22" rx="4"/><text class="t" x="1587" y="4025">★ 简短的小学英语教师教学工作总结5篇</text></g>
<g id="r10"><rect class="b" x="1582" y="4054" width="170" height="22" rx="4"/><text class="t" x="1587" y="4069">★ 小学英语教学工作经验总结通用版</text></g>

<!-- Branch 5 -->
<g id="b5-0"><rect class="b" x="595" y="2588" width="209" height="60" rx="4"/><text class="t" x="600" y="2601.5"><tspan x="600">本学期，我担任八年级的英语教学，根据本学</tspan><tspan x="600" dy="13">期教学工作计划安排及学生的实际，目前教学</tspan><tspan x="600" dy="13">工作已将要结束，现就本学期教学工作总结如</tspan><tspan x="600" dy="13">下：</tspan></text></g>
<g id="b5-1"><rect class="b" x="466" y="2259" width="110" height="20" rx="4"/><text class="t" x="471" y="2273">一、学生的基本状况：</text></g>
<g id="b5-1a"><rect class="b" x="238" y="2239" width="209" height="60" rx="4"/><text class="t" x="243" y="2252.5"><tspan x="243">学生英语拼写不规范，学习不主动，对英语的</tspan><tspan x="243" dy="13">兴趣较缺乏，学习态度较被动。有个别的学生</tspan><tspan x="243" dy="13">学习态度较认真，对英语较感兴趣，但是他们</tspan><tspan x="243" dy="13">基础弱，听写能力有待加强。</tspan></text></g>
<g id="b5-2"><rect class="b" x="486" y="2543" width="90" height="20" rx="4"/><text class="t" x="491" y="2557">二、采取的措施：</text></g>
<g id="b5-2a"><rect class="b" x="258" y="2324" width="209" height="99" rx="4"/><text class="t" x="263" y="2337.5"><tspan x="263">1、教学中，备课是一个必不可少，十分重要</tspan><tspan x="263" dy="13">的环节，备学生，又要备教法。备课不充分或</tspan><tspan x="263" dy="13">者备得不好，会严重影响课堂气氛和积极性，</tspan><tspan x="263" dy="13">我明白到备课的重要性，因此，每天我都花费</tspan><tspan x="263" dy="13">大量的时间在备课之上，认认真真钻研教材和</tspan><tspan x="263" dy="13">教法，不满意就不收工。虽然辛苦，但事实证</tspan><tspan x="263" dy="13">明是值得的。</tspan></text></g>
<g id="b5-2b"><rect class="b" x="258" y="2446" width="209" height="60" rx="4"/><text class="t" x="263" y="2459.5"><tspan x="263">2、认真学习体现以素质教育为目标的新课程</tspan><tspan x="263" dy="13">理念及学校工作计划，认真研究教材，和同年</tspan><tspan x="263" dy="13">级老师共同制定了本学期教学工作计划，加强</tspan><tspan x="263" dy="13">落实、反馈、总结计划的执行情况。</tspan></text></g>
<g id="b5-2c"><rect class="b" x="258" y="2528" width="209" height="60" rx="4"/><text class="t" x="263" y="2541.5"><tspan x="263">3、教学过程中，注意抓常规教学，以学生为</tspan><tspan x="263" dy="13">主体，面向全体学生组织教学，注意培养学生</tspan><tspan x="263" dy="13">的听说读写的能力，充分利用早读时间，要求</tspan><tspan x="263" dy="13">学生大声朗读课文、</tspan></text></g>
<g id="b5-2d"><rect class="b" x="258" y="2610" width="209" height="34" rx="4"/><text class="t" x="263" y="2623.5"><tspan x="263">4、抓词汇和句型学习，经常进行听写训练，</tspan><tspan x="263" dy="13">提高学生对记忆单词和句型的能力。</tspan></text></g>
<g id="b5-2e"><rect class="b" x="258" y="2667" width="209" height="34" rx="4"/><text class="t" x="263" y="2680.5"><tspan x="263">5、结合实物、图片等用英语进行简单的描述</tspan><tspan x="263" dy="13">，培养学生的语言表达能力。</tspan></text></g>
<g id="b5-2f"><rect class="b" x="264" y="2725" width="203" height="21" rx="4"/><text class="t" x="269" y="2739">6、抓小测验、单元测试过关，并注重复习。</text></g>
<g id="b5-3"><rect class="b" x="366" y="2950" width="210" height="34" rx="4"/><text class="t" x="371" y="2963.5"><tspan x="371">三、教学方面的经验、存在问题及今后的做法</tspan><tspan x="371" dy="13">：</tspan></text></g>
<g id="b5-3a"><rect class="b" x="272" y="2833" width="74" height="20" rx="4"/><text class="t" x="277" y="2847">1、教的方面：</text></g>
<g id="b5-3a1"><rect class="b" x="44" y="2767.5" width="209" height="151" rx="4"/><text class="t" x="49" y="2781"><tspan x="49">深入了解和分析学生情况，有针对地教学，由</tspan><tspan x="49" dy="13">于对每单元的单词和词组进行了多次强化训练</tspan><tspan x="49" dy="13">，所以词汇的得分率比以前高。另外因狠抓落</tspan><tspan x="49" dy="13">实“学习法”，使学生学习习惯得到进一步改善</tspan><tspan x="49" dy="13">，我班英语成绩有了较大的突破，平均分、合</tspan><tspan x="49" dy="13">格率、优秀率均稳中有升。虽然我们也进行了</tspan><tspan x="49" dy="13">英语阅读训练，但学生阅读能力的提高不大。</tspan><tspan x="49" dy="13">单选、完成句子的得分率还过得去，但综合知</tspan><tspan x="49" dy="13">识来来得及操练其他项目得分率就较低。今后</tspan><tspan x="49" dy="13">，应该加强完型填空、阅读理解和综合填空的</tspan><tspan x="49" dy="13">训练。</tspan></text></g>
<g id="b5-3b"><rect class="b" x="272" y="3079" width="74" height="20" rx="4"/><text class="t" x="277" y="3093">2、学的方面：</text></g>
<g id="b5-3b1"><rect class="b" x="44" y="2942" width="209" height="99" rx="4"/><text class="t" x="49" y="2955.5"><tspan x="49">一要培养学生对英语学习有兴趣，二要培养学</tspan><tspan x="49" dy="13">生的责任心，从小事从感恩开始，并且要用班</tspan><tspan x="49" dy="13">规来落实，坚持常年不断地、自觉得、随时随</tspan><tspan x="49" dy="13">地接触英语、运用英语知识，英语成绩就会不</tspan><tspan x="49" dy="13">断提高。经过一学期努力，大部分学生都觉得</tspan><tspan x="49" dy="13">英语有进步，以前不要说是背，读都读不顺，</tspan><tspan x="49" dy="13">而现在有些学生还能背些英语对话了。</tspan></text></g>
<g id="b5-3b2"><rect class="b" x="44" y="3062" width="209" height="47" rx="4"/><text class="t" x="49" y="3075.5"><tspan x="49">如果只是为了应付考试，临时抱佛脚地补习，</tspan><tspan x="49" dy="13">即使可以应付一时，但掌握的知识都是不牢固</tspan><tspan x="49" dy="13">的。新旧知识就会顾此失彼。</tspan></text></g>
<g id="b5-3b3"><rect class="b" x="44" y="3133" width="209" height="112" rx="4"/><text class="t" x="49" y="3146.5"><tspan x="49">总之，经过一个学期的努力，期末考就是一种</tspan><tspan x="49" dy="13">考验。我付出了，一定有收获。我明白到这并</tspan><tspan x="49" dy="13">不是最重要的，重要的是在本学期后如何自我</tspan><tspan x="49" dy="13">提高，如何共同提高本班的英语水平。因此，</tspan><tspan x="49" dy="13">无论怎样辛苦，我都会继续努力，多问，多想</tspan><tspan x="49" dy="13">，多向其他老师学习，争取进步。也希望在未</tspan><tspan x="49" dy="13">来的日子里，能在领导、老师的指导下，取得</tspan><tspan x="49" dy="13">更好成绩。</tspan></text></g>

<!-- Branch 7 -->
<g id="b7-0"><rect class="b" x="596" y="3265" width="209" height="73" rx="4"/><text class="t" x="601" y="3278.5"><tspan x="601">随着期末考试的结束，本学期的教学工作也告</tspan><tspan x="601" dy="13">一段落。回顾本学期的工作，取得了一定的成</tspan><tspan x="601" dy="13">绩，当然也还存在一定的不足。现将本学期的</tspan><tspan x="601" dy="13">工作总结如下，以为今后的工作提供借鉴和参</tspan><tspan x="601" dy="13">照。</tspan></text></g>
<g id="b7-1"><rect class="b" x="714" y="3383" width="90" height="20" rx="4"/><text class="t" x="719" y="3397">一、思想政治工作</text></g>
<g id="b7-1a"><rect class="b" x="487" y="3363" width="209" height="60" rx="4"/><text class="t" x="492" y="3376.5"><tspan x="492">继续搞好思想政治学习，认真学习理论知识和</tspan><tspan x="492" dy="13">《教师法》、《教育法》及“_市教师十不准”</tspan><tspan x="492" dy="13">，提高自身的政治素养和法律意识。坚持依法</tspan><tspan x="492" dy="13">执教，廉洁从教。</tspan></text></g>
<g id="b7-2"><rect class="b" x="734" y="3727" width="70" height="20" rx="4"/><text class="t" x="739" y="3741">二、教学工作</text></g>
<g id="b7-2a"><rect class="b" x="507" y="3447" width="209" height="60" rx="4"/><text class="t" x="512" y="3460.5"><tspan x="512">本学期我担任了六年级一班的英语教学工作。</tspan><tspan x="512" dy="13">六年级英语要求学生能够保持对英语的学习兴</tspan><tspan x="512" dy="13">趣，并能用简单的英语表达自己的意思，能够</tspan><tspan x="512" dy="13">看图说话，简单的写作。</tspan></text></g>
<g id="b7-2b"><rect class="b" x="507" y="3528" width="209" height="99" rx="4"/><text class="t" x="512" y="3541.5"><tspan x="512">1、根据我班学生的身心素质和学科水平，以</tspan><tspan x="512" dy="13">及新课标要求，学期初，我让学生自定目标，</tspan><tspan x="512" dy="13">自我加压，让学生在自己身边找榜样，结对子</tspan><tspan x="512" dy="13">。在平时的学习中，相互帮助，相互合作，以</tspan><tspan x="512" dy="13">优带后，共同进步，《小学六年级英语教学工</tspan><tspan x="512" dy="13">作总结》。使其增强了竞争意识与合作学习的</tspan><tspan x="512" dy="13">能力，同时也激发了学生学习英语的兴趣。</tspan></text></g>
<g id="b7-2c"><rect class="b" x="507" y="3650" width="209" height="125" rx="4"/><text class="t" x="512" y="3663.5"><tspan x="512">2、由于六年级的学生已经有了一定的自觉性</tspan><tspan x="512" dy="13">和自我管理能力，本学期我取消了“英语天天</tspan><tspan x="512" dy="13">读”中的签字制度，改为“课文录音”。让学生</tspan><tspan x="512" dy="13">通过大量的练习后，把自己觉得能够读或背诵</tspan><tspan x="512" dy="13">得熟练的或教师指定的课文录音，增强了其对</tspan><tspan x="512" dy="13">英语学习的自信心和兴趣。大部分学生能够坚</tspan><tspan x="512" dy="13">持每天读英语，已经养成了良好的学习习惯，</tspan><tspan x="512" dy="13">口语水平也有所提高。但也有一部分学生没能</tspan><tspan x="512" dy="13">坚持下来，缺乏必要的监督。</tspan></text></g>
<g id="b7-2d"><rect class="b" x="556" y="3987" width="160" height="20" rx="4"/><text class="t" x="561" y="4001">3、当然也还存在一些不足之处：</text></g>
<g id="b7-2d1"><rect class="b" x="333" y="3801" width="209" height="86" rx="4"/><text class="t" x="338" y="3814.5"><tspan x="338">①对学生估计不足，或考虑不周。我在平时的</tspan><tspan x="338" dy="13">训练中，只注意了大方面的情况，没能充分考</tspan><tspan x="338" dy="13">虑学生个体因素。盲目的认为已经是六年级的</tspan><tspan x="338" dy="13">学生了，有能力自己解决问题，而忽视了对学</tspan><tspan x="338" dy="13">生的出错的问题及时纠正。只强调了学生的优</tspan><tspan x="338" dy="13">势，忽略的其薄弱方面的及时补差。</tspan></text></g>
<g id="b7-2d2"><rect class="b" x="333" y="3908" width="209" height="73" rx="4"/><text class="t" x="338" y="3921.5"><tspan x="338">②对学生自觉性过于自信，没有盯上靠上。在</tspan><tspan x="338" dy="13">平时的教学过程中，我总是强调对学生自觉学</tspan><tspan x="338" dy="13">习的习惯的培养，对他们抱有过高的估计和评</tspan><tspan x="338" dy="13">价，因而没有对其具体的学习情况和效果做出</tspan><tspan x="338" dy="13">及时准确的验证和审查。</tspan></text></g>
<g id="b7-2d3"><rect class="b" x="333" y="4003" width="209" height="86" rx="4"/><text class="t" x="338" y="4016.5"><tspan x="338">③由于本学期我所担任的少先队内的工作较繁</tspan><tspan x="338" dy="13">杂，经常是该找学生补差的时候因没有时间而</tspan><tspan x="338" dy="13">错过，致使学生们认为英语老师不厉害不用管</tspan><tspan x="338" dy="13">，导致其对英语学习不够重视，自己在学生中</tspan><tspan x="338" dy="13">的威信也有所降低，对学生所犯的错误也不能</tspan><tspan x="338" dy="13">及时地给予纠正。</tspan></text></g>
<g id="b7-2d4"><rect class="b" x="333" y="4111" width="209" height="86" rx="4"/><text class="t" x="338" y="4124.5"><tspan x="338">④对待优生的帮扶不利。本学期，由于主客观</tspan><tspan x="338" dy="13">因素，我对班内的10余名待优生的辅导没能</tspan><tspan x="338" dy="13">落到实处。一个是我对他们缺乏足够的耐心，</tspan><tspan x="338" dy="13">一个是时间没能靠上。我有时间的时候他们没</tspan><tspan x="338" dy="13">时间，他们有时间时我有其他工作要做，错过</tspan><tspan x="338" dy="13">了帮教时机。</tspan></text></g>
<g id="b7-2d4a"><rect class="b" x="104" y="4121" width="209" height="66" rx="4"/><text class="t" x="109" y="4134.5"><tspan x="109">总之，在今后的工作中，我将扬长避短，在范</tspan><tspan x="109" dy="13">围内做好自己的本职工作，为学生的发展作为</tspan><tspan x="109" dy="13">努力，尽量避免以上问题的出现，不再错</tspan><tspan x="109" dy="13">过每一个学生。”</tspan></text></g>

<g id="watermarks">
<text class="w" x="375" y="740" transform="rotate(-30 375 740)">树图 shutu.cn</text>
<text class="w" x="1650" y="740" transform="rotate(-30 1650 740)">树图 shutu.cn</text>
<text class="w" x="375" y="1740" transform="rotate(-30 375 1740)">树图 shutu.cn</text>
<text class="w" x="1650" y="1740" transform="rotate(-30 1650 1740)">树图 shutu.cn</text>
<text class="w" x="375" y="2720" transform="rotate(-30 375 2720)">树图 shutu.cn</text>
<text class="w" x="1650" y="2720" transform="rotate(-30 1650 2720)">树图 shutu.cn</text>
<text class="w" x="375" y="3720" transform="rotate(-30 375 3720)">树图 shutu.cn</text>
<text class="w" x="1650" y="3720" transform="rotate(-30 1650 3720)">树图 shutu.cn</text>
</g>
</g>
</svg>
